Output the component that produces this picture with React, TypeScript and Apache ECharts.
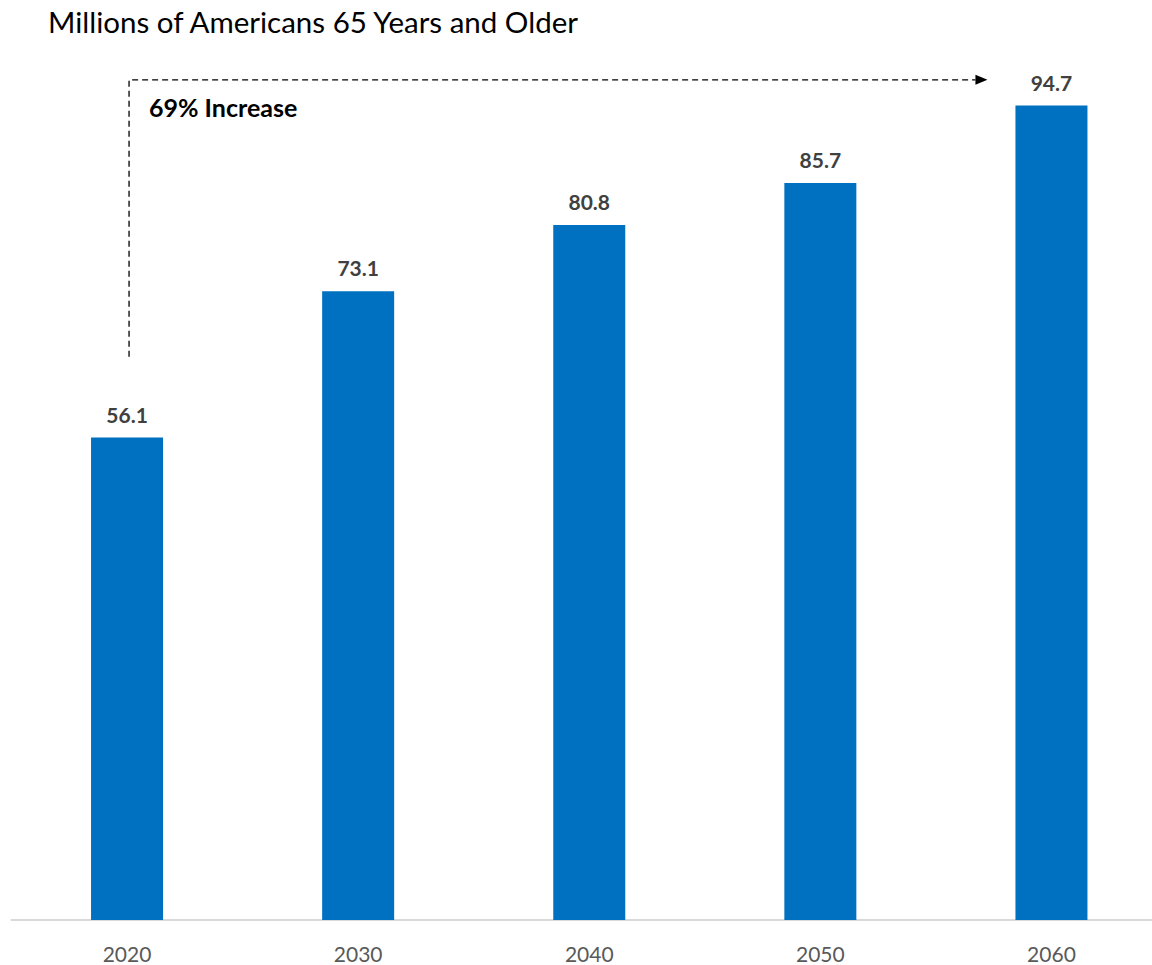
import React, { useEffect, useRef } from "react";
import * as echarts from "echarts";

const categories = ["2020", "2030", "2040", "2050", "2060"];
const values = [56.1, 73.1, 80.8, 85.7, 94.7];
const titleText = "Millions of Americans 65 Years and Older";
const annotationText = "69% Increase";

export default function App() {
  const ref = useRef<HTMLDivElement>(null);
  useEffect(() => {
    if (!ref.current) return;
    const chart = echarts.init(ref.current, null, { renderer: "svg" });
    const font = "Lato, 'Open Sans', sans-serif";
    chart.setOption({
      animation: false,
      backgroundColor: "#ffffff",
      title: {
        text: titleText,
        left: 43,
        top: 1,
        textStyle: { fontFamily: font, fontSize: 29.5, fontWeight: "normal", color: "#000000" },
      },
      grid: { left: 11.5, right: 0, top: 60, bottom: 45, containLabel: false },
      xAxis: {
        type: "category",
        data: categories,
        axisTick: { show: false },
        axisLine: { lineStyle: { color: "#d9d9d9", width: 2 } },
        axisLabel: { color: "#595959", fontSize: 21, fontFamily: font, margin: 23 },
      },
      yAxis: { type: "value", min: 0, max: 100, show: false, splitLine: { show: false } },
      series: [
        {
          type: "bar",
          data: values,
          barWidth: 72,
          itemStyle: { color: "#0070c0" },
          label: {
            show: true,
            position: "top",
            distance: 13,
            color: "#404040",
            fontWeight: "bold",
            fontSize: 21,
            fontFamily: font,
            formatter: (p: any) => p.value.toFixed(1),
          },
        },
      ],
    });
    const start = chart.convertToPixel({ xAxisIndex: 0, yAxisIndex: 0 }, [0, 0]) as number[];
    const end = chart.convertToPixel({ xAxisIndex: 0, yAxisIndex: 0 }, [4, 0]) as number[];
    const topY = chart.convertToPixel({ yAxisIndex: 0 }, 97.7) as number;
    const lowY = chart.convertToPixel({ yAxisIndex: 0 }, 65.5) as number;
    const x0 = start[0] + 2;
    const x1 = end[0] - 66;
    chart.setOption({
      graphic: [
        {
          type: "polyline",
          shape: { points: [[x0, lowY], [x0, topY], [x1 - 10, topY]] },
          style: { stroke: "#000", lineWidth: 1.3, lineDash: [6, 4], fill: null },
        },
        {
          type: "polygon",
          shape: { points: [[x1 - 10, topY - 5], [x1 + 2, topY], [x1 - 10, topY + 5]] },
          style: { fill: "#000" },
        },
        {
          type: "text",
          x: x0 + 20,
          y: topY + 27,
          style: {
            text: annotationText,
            font: `bold 25px ${font}`,
            fill: "#000",
            verticalAlign: "middle",
          },
        },
      ],
    });
    return () => chart.dispose();
  }, []);
  return (
    <div
      ref={ref}
      style={{ position: "fixed", left: 0, top: 0, width: 1167, height: 965 }}
    />
  );
}
